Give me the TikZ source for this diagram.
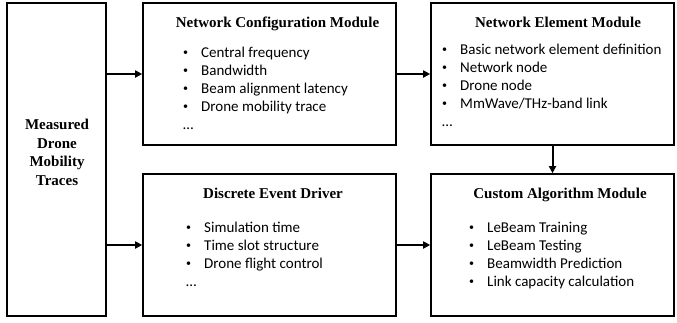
\documentclass[tikz,border=0pt]{standalone}
\usepackage{fontspec}
\setmainfont{Liberation Serif}
\newfontfamily\listfont{Carlito}
\usetikzlibrary{arrows.meta}

\tikzset{
  module/.style={draw=black, line width=1.6pt, inner sep=0pt},
  title/.style={font=\fontsize{15}{18}\selectfont\bfseries, anchor=base, inner sep=0pt},
  items/.style={font=\fontsize{15}{18}\selectfont\listfont, align=left, anchor=base west, inner sep=0pt},
  flow/.style={-{Triangle[length=7pt,width=7pt]}, line width=2pt},
}
\newcommand{\itm}[1]{\makebox[18pt][l]{\raisebox{1.5pt}{\fontsize{10}{10}\selectfont\textbullet}}#1}

\begin{document}
\begin{tikzpicture}[x=1pt,y=-1pt]
\useasboundingbox (0,0) rectangle (677,322);

% module boxes
\node[module, minimum width=99pt, minimum height=313pt] (traces) at (56.5,159.5) {};
\node[module, minimum width=253pt, minimum height=142pt] (config) at (269.5,74) {};
\node[module, minimum width=243pt, minimum height=142pt] (element) at (552.5,74) {};
\node[module, minimum width=253pt, minimum height=142pt] (driver) at (269.5,245) {};
\node[module, minimum width=243pt, minimum height=142pt] (custom) at (552.5,245) {};

% input traces
\node[title, anchor=center, align=center, font=\fontsize{15}{18.5}\selectfont\bfseries] (traces text) at (57,152.5)
  {Measured\\Drone\\Mobility\\Traces};

% titles
\node[title] (config title) at (277.5,27) {Network Configuration Module};
\node[title] (element title) at (558,27) {Network Element Module};
\node[title] (driver title) at (273,198) {Discrete Event Driver};
\node[title] (custom title) at (560,198) {Custom Algorithm Module};

% item lists (anchored at the last line)
\node[items] (config list) at (183,129) {\itm{Central frequency}\\ \itm{Bandwidth}\\
  \itm{Beam alignment latency}\\ \itm{Drone mobility trace}\\ …};
\node[items] (element list) at (442,126) {\itm{Basic network element definition}\\ \itm{Network node}\\
  \itm{Drone node}\\ \itm{MmWave/THz-band link}\\ …};
\node[items] (driver list) at (186,286) {\itm{Simulation time}\\ \itm{Time slot structure}\\
  \itm{Drone flight control}\\ …};
\node[items] (custom list) at (469,286) {\itm{LeBeam Training}\\ \itm{LeBeam Testing}\\
  \itm{Beamwidth Prediction}\\ \itm{Link capacity calculation}};

% data flow
\draw[flow] (traces.east |- config.west) -- (config.west);
\draw[flow] (config.east) -- (element.west);
\draw[flow] (element.south) -- (custom.north);
\draw[flow] (traces.east |- driver.west) -- (driver.west);
\draw[flow] (driver.east) -- (custom.west);
\end{tikzpicture}
\end{document}
